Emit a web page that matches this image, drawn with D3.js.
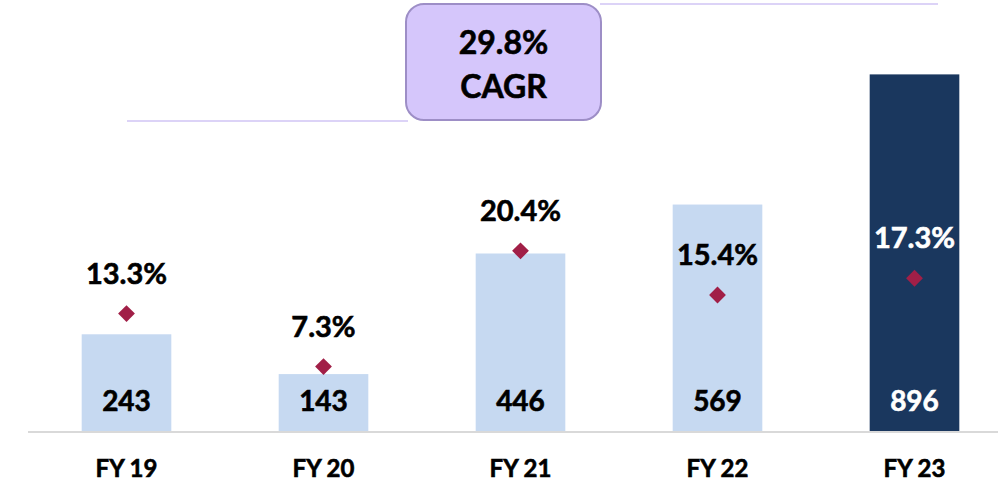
<!DOCTYPE html>
<html>
<head>
<meta charset="utf-8">
<script src="https://cdn.jsdelivr.net/npm/d3@7"></script>
<style>
  body { margin: 0; background: #fff; }
  svg text { font-family: Lato, "Open Sans", sans-serif; font-weight: bold; stroke-width: 0.6px; }
</style>
</head>
<body>
<div id="chart"></div>
<script>
// Data
const years   = ["FY 19", "FY 20", "FY 21", "FY 22", "FY 23"];
const values  = [243, 143, 446, 569, 896];
const margins = [13.3, 7.3, 20.4, 15.4, 17.3];
const cagrLabel = ["29.8%", "CAGR"];

const W = 998, H = 482;
const baseY = 431;

const svg = d3.select("#chart").append("svg")
  .attr("width", W).attr("height", H);

// Scales
const x = d3.scaleBand()
  .domain(years)
  .range([28, 1013])
  .paddingInner(0.545)
  .paddingOuter(0.2725);

const y = d3.scaleLinear().domain([0, 1000]).range([baseY, baseY - 398]);
const y2 = d3.scaleLinear().domain([0, 10]).range([baseY, baseY - 88.3]);

// CAGR guide lines
svg.append("line")
  .attr("x1", 127).attr("x2", 408).attr("y1", 121).attr("y2", 121)
  .attr("stroke", "#dcd3f7").attr("stroke-width", 2);
svg.append("line")
  .attr("x1", 600).attr("x2", 938).attr("y1", 4).attr("y2", 4)
  .attr("stroke", "#dcd3f7").attr("stroke-width", 2);

// CAGR box
svg.append("rect")
  .attr("x", 406).attr("y", 4).attr("width", 195).attr("height", 116)
  .attr("rx", 18)
  .attr("fill", "#d5c6fb").attr("stroke", "#9d8ec6").attr("stroke-width", 2);
svg.selectAll(".cagr").data(cagrLabel).enter().append("text")
  .attr("class", "cagr")
  .attr("x", 503.5)
  .attr("y", (d, i) => 54 + i * 44)
  .attr("text-anchor", "middle")
  .attr("font-size", 32)
  .attr("fill", "#000").attr("stroke", "#000")
  .text(d => d);

// Bars
svg.selectAll(".bar").data(values).enter().append("rect")
  .attr("class", "bar")
  .attr("x", (d, i) => x(years[i]))
  .attr("width", x.bandwidth())
  .attr("y", d => y(d))
  .attr("height", d => y(0) - y(d))
  .attr("fill", (d, i) => i === values.length - 1 ? "#1a375e" : "#c6d9f1");

// Axis line
svg.append("line")
  .attr("x1", 28).attr("x2", W).attr("y1", baseY + 1).attr("y2", baseY + 1)
  .attr("stroke", "#d9d9d9").attr("stroke-width", 2);

// Value labels in bars
svg.selectAll(".val").data(values).enter().append("text")
  .attr("class", "val")
  .attr("x", (d, i) => x(years[i]) + x.bandwidth() / 2)
  .attr("y", 411)
  .attr("text-anchor", "middle")
  .attr("font-size", 28)
  .attr("fill", (d, i) => i === values.length - 1 ? "#fff" : "#000")
  .attr("stroke", (d, i) => i === values.length - 1 ? "#fff" : "#000")
  .text(d => d);

// Diamonds
svg.selectAll(".dia").data(margins).enter().append("path")
  .attr("class", "dia")
  .attr("d", d3.symbol(d3.symbolDiamond2, 180))
  .attr("transform", (d, i) => `translate(${x(years[i]) + x.bandwidth() / 2},${y2(d)})`)
  .attr("fill", "#a11f47");

// Percentage labels
svg.selectAll(".pct").data(margins).enter().append("text")
  .attr("class", "pct")
  .attr("x", (d, i) => x(years[i]) + x.bandwidth() / 2)
  .attr("y", d => y2(d) - 30)
  .attr("text-anchor", "middle")
  .attr("font-size", 29)
  .attr("fill", (d, i) => i === margins.length - 1 ? "#fff" : "#000")
  .attr("stroke", (d, i) => i === margins.length - 1 ? "#fff" : "#000")
  .text(d => d.toFixed(1) + "%");

// Category labels
svg.selectAll(".cat").data(years).enter().append("text")
  .attr("class", "cat")
  .attr("x", d => x(d) + x.bandwidth() / 2)
  .attr("y", 477)
  .attr("text-anchor", "middle")
  .attr("font-size", 24)
  .attr("fill", "#000").attr("stroke", "#000")
  .text(d => d);
</script>
</body>
</html>
